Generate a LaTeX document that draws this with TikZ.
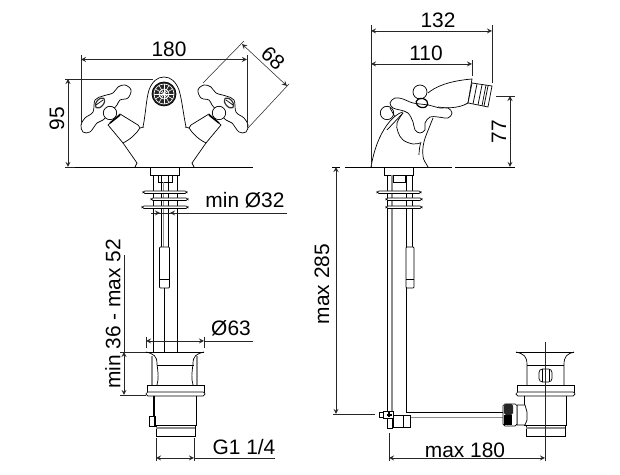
\documentclass[tikz,border=0pt]{standalone}
\usepackage{fontspec}
\setmainfont{Liberation Sans}
\tikzset{
  part/.style={line width=0.4pt, black},
  tube/.style={line width=0.8pt, black!45},
  dimline/.style={line width=0.3pt, black!85},
  dimboth/.style={dimline, <->, >=stealth},
  dimtip/.style={dimline, ->, >=stealth},
  label/.style={inner sep=0pt, font=\fontsize{11.9}{14}\selectfont}
}
% one cross handle with its cone, left hand version
\newcommand{\crosshandle}{
  \draw[part] (123,143) -- (137,163) -- (135,167);
  \draw[part] (140,128) -- (144,127);
  \draw[part, fill=white] (108,125) -- (123,143) .. controls (131,139) and (136,134) .. (140,128)
    -- (138,125) -- (120,114) -- cycle;
  \draw[part, fill=white] plot[smooth cycle, tension=0.6] coordinates {(125,85) (131,90) (128,98) (120,100) (117,105)
    (110,113) (103,120) (97,123) (90,132) (83,132) (81,125) (85,118) (93,112) (95,100) (103,96) (113,93) (118,87)};
  \draw[part, fill=white] (110,113) circle[radius=6.7];
  \draw[line width=0.9pt, black] (110,123) -- (120,115);
  \draw[line width=0.7pt, black!80, rotate around={50:(100,103)}] (100,103) ellipse[x radius=6, y radius=3.5];
  \draw[part] (96,105) -- (103,100);
}
% flange and threaded body of the waste
\newcommand{\wastebody}[1]{
  \begin{scope}[shift={(#1,0)}]
    \draw[part] (146,352) -- (204,352);
    \draw[part] (157,365) -- (194,365);
    \draw[part, fill=white] (147,385) rectangle (204,392);
    \draw[part, fill=white, rounded corners=1pt] (146,392) rectangle (205,396);
    \draw[part] (154,396) -- (154,425) -- (196,425) -- (196,396);
    \draw[part] (156,425) -- (156,436) -- (195,436) -- (195,425);
    \draw[tube] (156,428) -- (195,428);
  \end{scope}
}
% three plates under the deck
\newcommand{\platerow}[6]{
  \draw[part, fill=white, rounded corners=1pt] (#1,191) rectangle (#2,193.5);
  \draw[part, fill=white, rounded corners=1pt] (#3,198) rectangle (#4,200.5);
  \draw[part, fill=white, rounded corners=1pt] (#5,206) rectangle (#6,208.5);
}
\begin{document}
\begin{tikzpicture}[x=0.02cm, y=-0.02cm]
  \useasboundingbox (0,0) rectangle (620,475);

  % front view
  \draw[part] (75,167) -- (253,167);
  \draw[part] (143,127) .. controls (146,112) and (146,100) .. (149,90)
    .. controls (152,82) and (157,77) .. (164,77) .. controls (171,77) and (176,82) .. (179,90)
    .. controls (182,100) and (183,112) .. (186,127);
  \draw[part, fill=black!85] (164,94) circle[radius=12];
  \draw[line width=0.35pt, white] (164,94) circle[radius=10];
  \foreach \spokeangle in {0,30,...,330} {
    \draw[line width=0.35pt, white] (164,94) -- ++(\spokeangle:10);
  }
  \draw[line width=0.4pt, white] (164,94) circle[radius=5];
  \crosshandle
  \begin{scope}[xscale=-1, shift={(-329,0)}]
    \crosshandle
  \end{scope}
  \draw[part, fill=white] (150,167) rectangle (179,175);
  \draw[part] (153,175) -- (153,352);
  \draw[part] (177,175) -- (177,352);
  \draw[part] (158,175) rectangle (172,182);
  \draw[part] (161,175) -- (161,247);
  \draw[tube] (163.5,182) -- (163.5,247);
  \draw[part] (168,175) -- (168,247);
  \platerow{143}{187}{151}{188}{142}{188}
  \draw[part, fill=white, rounded corners=0.5pt] (159.5,247) rectangle (169.5,288);
  \draw[part] (159.5,279) -- (169.5,279);
  \draw[part] (164,288) -- (164,352);
  \wastebody{0}
  \draw[part] (146,352) .. controls (154,354) and (157,356) .. (157,364) .. controls (158,372) and (159,378) .. (157,385);
  \draw[part] (204,352) .. controls (196,354) and (193,356) .. (193,364) .. controls (192,372) and (191,378) .. (193,385);
  \draw[tube] (152,356) -- (152,385);
  \draw[tube] (197,356) -- (197,385);
  \draw[part] (153,396) -- (153,416);
  \draw[part] (149,416) rectangle (155,426);

  % front view dimensions
  \draw[dimboth] (81,59.5) -- (247,59.5);
  \draw[dimline] (81,55) -- (81,125);
  \draw[dimline] (247,55) -- (247,127);
  \node[label] (width) at (169,49) {180};
  \draw[dimboth] (242,44) -- (287,86);
  \draw[dimline] (244,41) -- (203,83);
  \draw[dimline] (289,84) -- (248,128);
  \node[label, rotate=-43] (handle) at (273,58) {68};
  \draw[dimboth] (68,79) -- (68,167);
  \draw[dimline] (65,79) -- (153,79);
  \draw[dimline] (65,167) -- (75,167);
  \node[label, rotate=90] (height) at (57,119) {95};
  \draw[dimline] (151,213) -- (287,213);
  \draw[dimtip] (151,213) -- (160,213);
  \draw[dimtip] (179,213) -- (170,213);
  \node[label] (hole) at (245,200) {min Ø32};
  \draw[dimboth] (146,341) -- (204,341);
  \draw[dimline] (204,341) -- (253,341);
  \draw[dimline] (146,337) -- (146,348);
  \draw[dimline] (204,337) -- (204,348);
  \node[label] (waste) at (231,328) {Ø63};
  \draw[dimboth] (124,352) -- (124,395);
  \draw[dimline] (124,255) -- (124,352);
  \draw[dimline] (120,352) -- (146,352);
  \draw[dimline] (120,395) -- (146,395);
  \node[label, rotate=90] (deck) at (113,314) {min 36 - max 52};
  \draw[dimboth] (156,458) -- (194,458);
  \draw[dimline] (194,458) -- (275,458);
  \draw[dimline] (156,438) -- (156,461);
  \draw[dimline] (194,438) -- (194,461);
  \node[label] (thread) at (244,447) {G1 1/4};

  % side view
  \draw[part] (332,167) -- (340,167);
  \draw[part] (345,167) -- (452,167);
  \draw[part] (455,167) -- (515,167);
  \draw[part] (371,167) .. controls (374,150) and (379,136) .. (387,125) .. controls (392,118) and (398,113) .. (403,112);
  \draw[part] (387,130) -- (403,113);
  \draw[part] (428,167) .. controls (426,163) and (423,160) .. (423,156) .. controls (422,148) and (424,140) .. (427,133) -- (433,118);
  \draw[part] (419,155) .. controls (419,150) and (420,145) .. (421,142);
  \draw[part] (428,93) .. controls (435,87) and (448,81) .. (472,79) -- (468,103);
  \draw[part] (438,107) .. controls (445,108) and (458,109) .. (468,103);
  \draw[part, fill=white] (472,83) -- (492,86) -- (488,107) -- (468,103) -- cycle;
  \draw[part] (477,84) -- (473,104);
  \draw[part] (482,85) -- (478,105);
  \draw[part] (486,85) -- (482,106);
  \draw[part] (488,86) -- (484,106);
  \draw[part, fill=white] plot[smooth, tension=0.6] coordinates {(403,113) (397,123) (398,132) (403,140) (413,144) (420,143)};
  \draw[part, fill=white] (387,113) circle[radius=6.7];
  \draw[part, fill=white] (420,92) circle[radius=7];
  \draw[part, fill=white] plot[smooth cycle, tension=0.6] coordinates {(390,103) (395,98) (403,99) (413,103) (428,105) (440,108) (448,108) (452,113)
    (448,118) (438,117) (430,117) (425,123) (425,130) (420,133) (415,130) (413,122) (408,113) (400,110) (393,108)};
  \draw[line width=0.7pt, black, rotate around={-15:(422,103)}] (422,103) ellipse[x radius=6, y radius=4.5];
  \draw[part] (390,108) -- (395,117);

  \draw[part, fill=white] (384,167) rectangle (413,175);
  \draw[part] (387,175) -- (387,413);
  \draw[tube] (392,175) -- (392,411);
  \draw[part] (393,175) rectangle (405,182);
  \draw[part] (406,175) -- (406,412);
  \draw[part] (412,175) -- (412,247);
  \platerow{377}{421}{386}{422}{386}{422}
  \draw[part, fill=white, rounded corners=0.5pt] (406,247) rectangle (414,288);
  \draw[part] (406,279) -- (414,279);
  \wastebody{370}
  \draw[part] (516,352) .. controls (524,354) and (527,356) .. (527,365) -- (527,385);
  \draw[part] (574,352) .. controls (567,354) and (564,356) .. (564,365) -- (564,385);
  \draw[part] (406,412) -- (503,412);
  \draw[tube] (409,417.5) -- (503,417.5);
  \draw[part] (379,412) rectangle (383,417);
  \draw[part, fill=white] (383,411) rectangle (393,418);
  \draw[part, fill=white] (393,415) rectangle (410,427);
  \draw[part] (403,415) -- (403,427);
  \draw[part] (387,418) -- (387,428) -- (392,428) -- (392,418);
  \draw[line width=0.6pt] (386.5,415) -- (391.5,415) (389,412.5) -- (389,417.5);
  \draw[part, fill=white] (517,405) -- (525,405) -- (527,412) -- (527,420) -- (525,425) -- (517,425) -- cycle;
  \draw[part, fill=white, rounded corners=1pt] (503,404) rectangle (517,426);
  \fill[black!85, rounded corners=1pt] (504,404) rectangle (513,415);
  \foreach \knurlx in {505,507,...,511} {
    \draw[line width=0.7pt, black] (\knurlx,415) -- (\knurlx,425);
  }
  \draw[part, rounded corners=2pt] (539,369) rectangle (552,382);
  \draw[part] (542,369) -- (542,382) (549,369) -- (549,382);

  % side view dimensions
  \draw[dimboth] (371,31) -- (492,31);
  \draw[dimline] (371,25) -- (371,167);
  \draw[dimline] (492,25) -- (492,83);
  \node[label] (reach) at (438,20) {132};
  \draw[dimboth] (371,64) -- (472,64);
  \draw[dimline] (472,60) -- (472,76);
  \node[label] (spout) at (426,53) {110};
  \draw[dimboth] (510,96) -- (510,167);
  \draw[dimline] (496,96) -- (515,96);
  \node[label, rotate=90] (outlet) at (499,132) {77};
  \draw[dimboth] (336,167) -- (336,414);
  \draw[dimline] (333,414) -- (375,414);
  \node[label, rotate=90] (drop) at (322,284) {max 285};
  \draw[dimboth] (389,458) -- (545,458);
  \draw[dimline] (389,433) -- (389,461);
  \draw[dimline] (545,342) -- (545,461);
  \node[label] (rod) at (465,450) {max 180};
\end{tikzpicture}
\end{document}
